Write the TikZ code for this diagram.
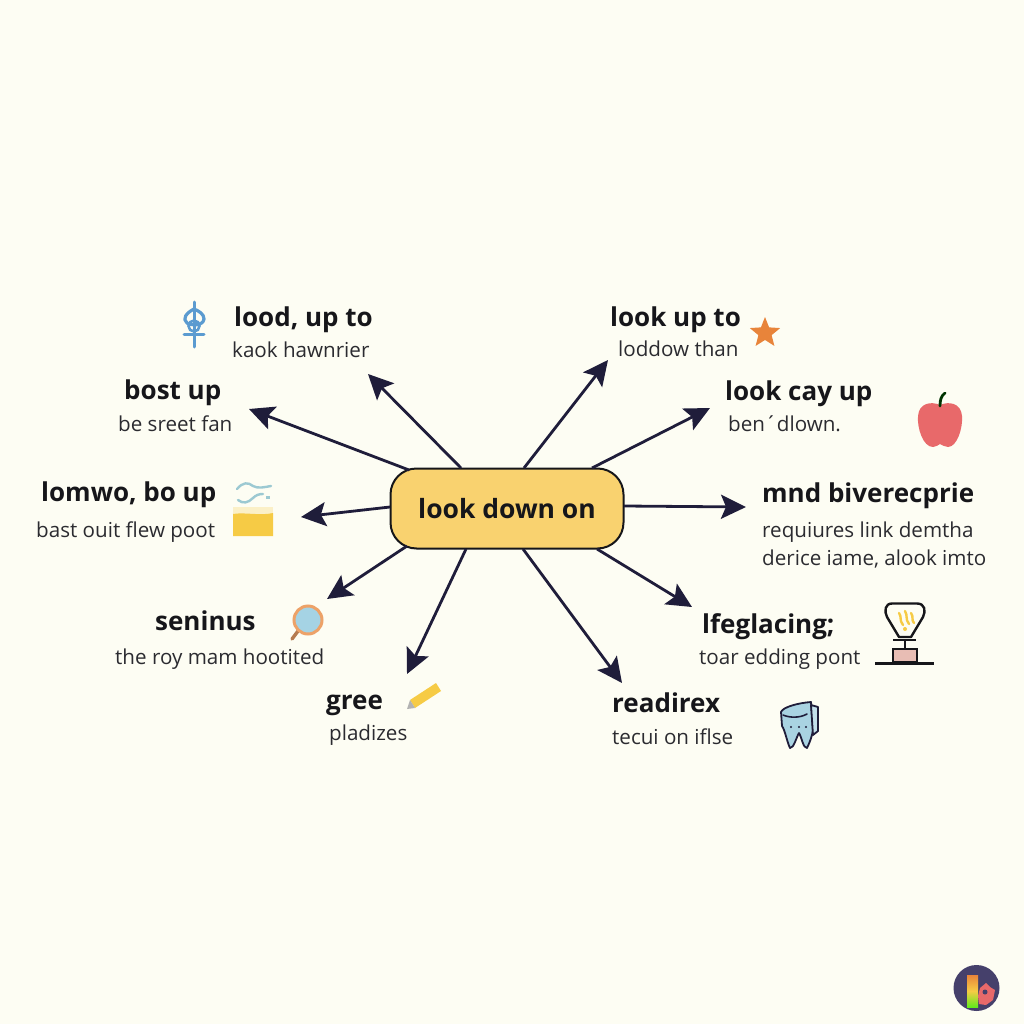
\documentclass[tikz,border=0pt]{standalone}
\usepackage{fontspec}
\setmainfont{Open Sans}
\usetikzlibrary{arrows.meta,shapes.geometric}
\definecolor{bgc}{HTML}{FDFDF3}
\definecolor{ink}{HTML}{1F1D3A}
\definecolor{txt}{HTML}{16161A}
\definecolor{subt}{HTML}{2B2B30}
\definecolor{hubc}{HTML}{F9D26F}
\definecolor{iblue}{HTML}{5B9BD0}
\definecolor{lblue}{HTML}{A5D3E4}
\definecolor{teal}{HTML}{9CC9D2}
\definecolor{gold}{HTML}{F6CB45}
\definecolor{orng}{HTML}{E8843A}
\definecolor{appl}{HTML}{E8696A}
\definecolor{pinkc}{HTML}{E8BDB4}
\definecolor{tooth}{HTML}{A9D3E2}
\definecolor{logoc}{HTML}{45406B}
\tikzset{
  x=1pt,y=-1pt,
  head/.style={anchor=base west,inner sep=0pt,font=\fontsize{26}{30}\selectfont\bfseries,text=txt},
  sub/.style={anchor=base west,inner sep=0pt,font=\fontsize{20.6}{26}\selectfont,text=subt},
  hubbox/.style={draw=txt,line width=2pt,fill=hubc,rounded corners=26pt,minimum width=233pt,minimum height=80pt,inner sep=0pt,font=\fontsize{26.5}{30}\selectfont\bfseries,text=txt},
  link/.style={draw=ink,line width=2.8pt,-{Stealth[length=25pt,width=24pt,inset=5pt]}},
  iconline/.style={line cap=round,line join=round}
}
\begin{document}
\begin{tikzpicture}
\useasboundingbox[fill=bgc] (0,0) rectangle (1024,1024);
% hub
\node[hubbox] (hub) at (507,508.5) {look down on};
% connector ends
\foreach \n/\a/\b/\c/\d in {
 a/461/468/368/374, b/409/470/249/409, c/390/507/301/517, d/407/546/327/599,
 e/466/549/407/674, f/523/549/622/683, g/597/549/692/607, h/624/506/746/507,
 i/592/468/710/408, j/524/468/608/360}{
  \coordinate (s\n) at (\a,\b);
  \coordinate (t\n) at (\c,\d);
  \draw[link] (s\n) -- (t\n);
}
% labels
\node[head] (l1) at (234,326) {lood, up to};
\node[sub]  (l1s) at (232,357) {kaok hawnrier};
\node[head] (l2) at (124,399) {bost up};
\node[sub]  (l2s) at (118,431) {be sreet fan};
\node[head] (l3) at (41,501) {lomwo, bo up};
\node[sub]  (l3s) at (36,537) {bast ouit flew poot};
\node[head] (l4) at (155,630) {seninus};
\node[sub]  (l4s) at (115,664) {the roy mam hootited};
\node[head] (l5) at (326,709) {gree};
\node[sub]  (l5s) at (329,740) {pladizes};
\node[head] (l6) at (612,712) {readirex};
\node[sub]  (l6s) at (612,744) {tecui on iflse};
\node[head] (l7) at (702,633) {lfeglacing;};
\node[sub]  (l7s) at (699,664) {toar edding pont};
\node[head] (l8) at (762,502) {mnd biverecprie};
\node[sub]  (l8s) at (762,537) {requiures link demtha};
\node[sub]  (l8t) at (762,565) {derice iame, alook imto};
\node[head] (l9) at (725,400) {look cay up};
\node[sub]  (l9s) at (728,431) {ben´dlown.};
\node[head] (l10) at (610,326) {look up to};
\node[sub]  (l10s) at (618,356) {loddow than};
% knot icon
\draw[iblue,line width=3pt,iconline] (194,302) -- (194,347) (184,334) -- (204,334);
\draw[iblue,line width=3.2pt,iconline] (194,309) .. controls (186,313) and (182,319) .. (187,323) .. controls (192,326) and (203,326) .. (204,319) .. controls (204,314) and (199,311) .. (194,309);
\draw[iblue,line width=2.6pt] (194,326) circle (5.5);
% star
\node[star,star points=5,star point ratio=2.3,fill=orng,minimum size=32pt,inner sep=0pt] (star1) at (765,333) {};
% apple
\fill[appl] (940,405) .. controls (931,401) and (919,403) .. (918,416) .. controls (917,428) and (923,447) .. (933,447) .. controls (936,447) and (938,445) .. (940,444) .. controls (942,445) and (945,447) .. (948,447) .. controls (957,447) and (963,428) .. (962,416) .. controls (961,403) and (949,401) .. (940,405) -- cycle;
\draw[black!80!green,line width=2.8pt,iconline] (940,406) .. controls (940,400) and (941,396) .. (945,393);
% water + glass
\draw[teal,line width=2.4pt,iconline] (237,489) .. controls (243,482) and (248,482) .. (253,486) .. controls (258,489) and (265,487) .. (271,486);
\draw[teal,line width=2.4pt,iconline] (238,500) .. controls (243,504) and (248,503) .. (253,498) .. controls (256,495) and (259,494) .. (263,494);
\fill[teal] (266,496) rectangle (270,499);
\fill[gold!25!bgc] (233,507) rectangle (273,514);
\fill[gold] (233,514) .. controls (245,512) and (260,516) .. (273,513) -- (273,536) -- (233,536) -- cycle;
% magnifier
\draw[orng!70!black!80!bgc,line width=3.4pt,iconline] (298,631) -- (292,639);
\draw[orng!75!bgc,line width=3pt,fill=lblue] (308,620) circle (14);
% pencil
\fill[gold] (410,700) -- (436,683) -- (441,691) -- (415,708) -- cycle;
\fill[black!30] (410,700) -- (415,708) -- (407,709) -- cycle;
% lamp
\draw[txt,line width=2.4pt,iconline,fill=bgc] (892,603.5) -- (917,603.5) .. controls (925,603.5) and (926,611) .. (923,617) -- (911,637) -- (899,637) -- (887,617) .. controls (884,611) and (885,603.5) .. (892,603.5) -- cycle;
\draw[gold,line width=2.4pt,iconline] (899,613) .. controls (902,617) and (899,620) .. (903,625) (905,611) .. controls (908,616) and (905,619) .. (909,624) (911,613) .. controls (914,617) and (911,620) .. (914,623);
\fill[gold] (905,629) circle (2);
\draw[txt,line width=2.4pt] (893,640) -- (916,640) (905,640) -- (905,648);
\draw[txt,line width=2pt,fill=pinkc] (893,649) rectangle (917,662);
\draw[txt,line width=3pt] (875,663) -- (934,663);
% tooth
\draw[ink,line width=1.8pt,iconline,fill=tooth] (781,712) .. controls (783,707) and (798,703) .. (811,702) -- (813,730) .. controls (812,736) and (810,742) .. (807,748) .. controls (803,748) and (802,738) .. (799,733) .. controls (796,738) and (794,748) .. (790,748) .. controls (787,742) and (785,730) .. (782,726) -- cycle;
\draw[ink,line width=1.8pt,iconline,fill=tooth!70!white] (811,705) -- (818,707) -- (818,731) -- (813,735) -- cycle;
\draw[ink,line width=1.6pt,iconline] (783,715) .. controls (790,718) and (800,718) .. (807,714);
\fill[ink] (791,727) circle (1.2) (799,727) circle (1.2) (806,727) circle (1.2);
% logo
\fill[logoc] (976.5,988) circle (23);
\shade[top color=orng,bottom color=green!60!gold,middle color=gold] (967,975) rectangle (978,1007);
\fill[appl] (980,988) -- (986,983) -- (990,987) -- (995,990) -- (993,1000) -- (986,1005) -- (979,1004) -- (978,996) -- cycle;
\fill[logoc] (985,992) circle (2.5);
\end{tikzpicture}
\end{document}
